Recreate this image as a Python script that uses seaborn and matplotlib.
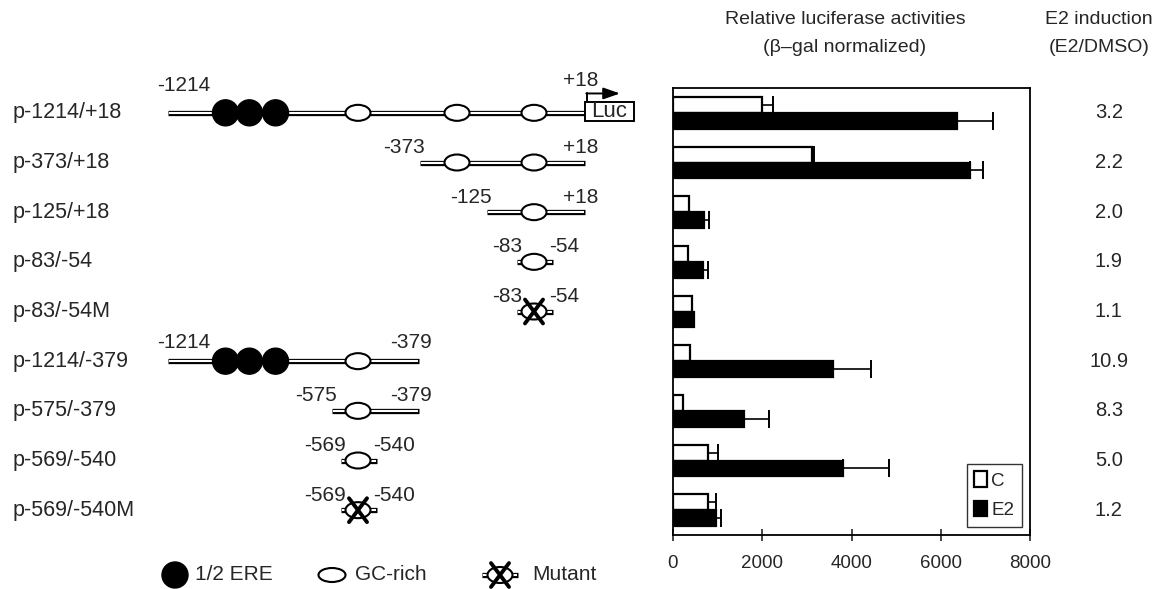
import numpy as np
import pandas as pd
import seaborn as sns
import matplotlib.pyplot as plt
from matplotlib.patches import Ellipse, Rectangle

# constructs (promoter fragments) and their luciferase readings
constructs = ['p-1214/+18', 'p-373/+18', 'p-125/+18', 'p-83/-54', 'p-83/-54M',
              'p-1214/-379', 'p-575/-379', 'p-569/-540', 'p-569/-540M']
starts = [-1214, -373, -125, -83, -83, -1214, -575, -569, -569]
ends = [18, 18, 18, -54, -54, -379, -379, -540, -540]
ctrl = [1990, 3110, 365, 335, 420, 380, 215, 785, 785]
ctrl_err = [250, 60, 0, 0, 0, 0, 0, 220, 180]
e2 = [6360, 6655, 695, 665, 470, 3585, 1590, 3800, 965]
e2_err = [810, 285, 110, 110, 0, 845, 560, 1040, 110]
induction = ['3.2', '2.2', '2.0', '1.9', '1.1', '10.9', '8.3', '5.0', '1.2']
xticks = [0, 2000, 4000, 6000, 8000]

# sites on the promoter (bp)
ere_sites = [-990, -897, -795]
gc_sites = [-555, -236, -70]

# schematic is not to scale: bp -> drawing position
bp_marks = [-1214, -575, -569, -555, -540, -379, -373, -236, -125, -83, -70, -54, 18]
draw_marks = [168, 332, 341, 358, 377, 419, 420, 457, 487, 517, 534, 553, 585]


def sx(bp):
    return float(np.interp(bp, bp_marks, draw_marks))


sns.set_style('ticks')
plt.rcParams['font.family'] = ['Liberation Sans', 'DejaVu Sans']

W, H = 1169, 589
fig = plt.figure(figsize=(W / 100, H / 100), dpi=100)
top, bottom = 88, 535
ax = fig.add_axes([673 / W, 1 - bottom / H, (1030 - 673) / W, (bottom - top) / H])
sch = fig.add_axes([0, 1 - bottom / H, 660 / W, (bottom - top) / H])
ppu = (bottom - top) / len(constructs)  # pixels per row

# ---- bar chart ----
df = pd.DataFrame({'construct': constructs * 2,
                   'treatment': ['C'] * len(ctrl) + ['E2'] * len(e2),
                   'activity': ctrl + e2})
sns.barplot(data=df, y='construct', x='activity', hue='treatment', orient='h',
            palette={'C': 'white', 'E2': 'black'}, edgecolor='black', linewidth=1.6,
            width=0.64, errorbar=None, ax=ax)
for cont, err in zip(ax.containers, [ctrl_err, e2_err]):
    for bar, e in zip(cont, err):
        if e > 0:
            ax.errorbar(bar.get_width(), bar.get_y() + bar.get_height() / 2,
                        xerr=[[0], [e]], fmt='none', ecolor='black',
                        elinewidth=1.2, capsize=6.5, capthick=1.4)
ax.set_xlim(0, 8000)
ax.set_ylim(len(constructs) - 0.5, -0.5)
ax.set_xticks(xticks)
ax.set_yticks([])
ax.set_xlabel('')
ax.set_ylabel('')
ax.tick_params(axis='x', direction='inout', length=9, width=1.2, labelsize=13.5, pad=10)
for s in ax.spines.values():
    s.set_linewidth(1.3)
    s.set_color('black')
leg = ax.legend(loc='lower right', fontsize=13.5, handlelength=0.7, handleheight=0.9,
                handletextpad=0.2, borderpad=0.4, labelspacing=0.6,
                borderaxespad=0.45, frameon=True, fancybox=False)
leg.get_frame().set_edgecolor('black')
leg.get_frame().set_linewidth(1.0)

for i, v in enumerate(induction):
    ax.text(1.221, i, v, transform=ax.get_yaxis_transform(), ha='center',
            va='center', fontsize=14.5)

fig.text(845 / W, 1 - 20 / H, 'Relative luciferase activities', ha='center',
         va='center', fontsize=14)
fig.text(845 / W, 1 - 47 / H, '(β–gal normalized)', ha='center', va='center', fontsize=14)
fig.text(1099 / W, 1 - 20 / H, 'E2 induction', ha='center', va='center', fontsize=14)
fig.text(1099 / W, 1 - 47 / H, '(E2/DMSO)', ha='center', va='center', fontsize=14)

# ---- promoter schematics ----
sch.set_xlim(0, 660)
sch.set_ylim(len(constructs) - 0.5, -0.5)
sch.axis('off')


def dna(x0, x1, y):
    sch.plot([x0, x1], [y, y], color='black', lw=3.8, solid_capstyle='butt', zorder=1)
    sch.plot([x0 + 1, x1 - 1], [y, y], color='white', lw=1.5,
             solid_capstyle='butt', zorder=2)


def ere(x, y):
    sch.add_patch(Ellipse((x, y), 26, 26 / ppu, fc='black', ec='black', zorder=3,
                          clip_on=False))


def gc(x, y, mutant=False):
    sch.add_patch(Ellipse((x, y), 25, 16 / ppu, fc='white', ec='black', lw=1.5,
                          zorder=3, clip_on=False))
    if mutant:
        for d in (1, -1):
            sch.plot([x - 9, x + 9], [y - d * 0.24, y + d * 0.24], color='black',
                     lw=2.8, zorder=4, clip_on=False)


for i, (name, st, en) in enumerate(zip(constructs, starts, ends)):
    sch.text(13, i, name, ha='left', va='center', fontsize=15.5)
    xs, xe = sx(st), sx(en)
    dna(xs, xe, i)
    has_ere = False
    for b in ere_sites:
        if st <= b <= en:
            ere(sx(b), i)
            has_ere = True
    for b in gc_sites:
        if st <= b <= en:
            gc(sx(b), i, mutant=name.endswith('M'))
    off_s = off_e = 0.30
    if has_ere:
        off_s = off_e = 0.38
    if i == 0:
        off_s, off_e = 0.56, 0.66
        # reporter box and transcription start arrow
        sch.add_patch(Rectangle((xe, i - 0.22), 49, 0.38, fc='white', ec='black',
                                lw=1.4, zorder=3))
        sch.text(xe + 24.5, i - 0.02, 'Luc', ha='center', va='center', fontsize=16,
                 zorder=4)
        sch.plot([xe + 2, xe + 2], [i - 0.22, i - 0.39], color='black', lw=1.4)
        sch.annotate('', xy=(xe + 35, i - 0.39), xytext=(xe + 1.3, i - 0.39),
                     arrowprops=dict(arrowstyle='-|>,head_length=1.0,head_width=0.35',
                                     color='black', lw=1.4, shrinkA=0, shrinkB=0))
    lab_s, lab_e = '%+d' % st if st > 0 else str(st), '+%d' % en if en > 0 else str(en)
    if has_ere:
        sch.text(xs - 11, i - off_s, lab_s, ha='left', va='center', fontsize=15)
    else:
        sch.text(xs + 5, i - off_s, lab_s, ha='right', va='center', fontsize=15)
    if xe - xs > 60:
        sch.text(xe + 13, i - off_e, lab_e, ha='right', va='center', fontsize=15)
    else:
        sch.text(xe - 4, i - off_e, lab_e, ha='left', va='center', fontsize=15)

# symbol key under the schematics
ky = len(constructs) - 0.5 + 40 / ppu
ere(175, ky)
sch.text(195, ky, '1/2 ERE', ha='left', va='center', fontsize=15)
sch.add_patch(Ellipse((332, ky), 27, 14 / ppu, fc='white', ec='black', lw=1.5,
                      clip_on=False))
sch.text(355, ky, 'GC-rich', ha='left', va='center', fontsize=15)
sch.plot([482, 518], [ky, ky], color='black', lw=3.8, solid_capstyle='butt', clip_on=False)
sch.plot([483, 517], [ky, ky], color='white', lw=1.5, solid_capstyle='butt', clip_on=False)
gc(500, ky, mutant=True)
sch.text(532, ky, 'Mutant', ha='left', va='center', fontsize=15)

fig.savefig('out.png', dpi=100)
